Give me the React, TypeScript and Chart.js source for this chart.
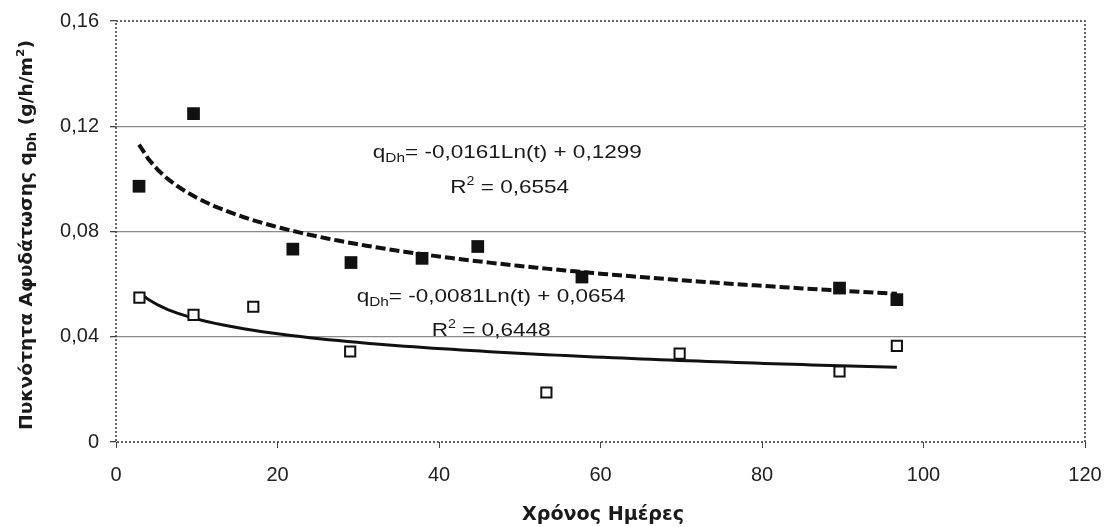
import React, { useEffect, useRef } from 'react';
import { Chart, registerables } from 'chart.js';

Chart.register(...registerables);

// ---- data ----
const filledDays = [2.85, 9.6, 21.9, 29.1, 37.9, 44.8, 57.7, 89.6, 96.7];
const filledQ = [0.0972, 0.1248, 0.0733, 0.0682, 0.0698, 0.0743, 0.0627, 0.0585, 0.0541];
const openDays = [2.9, 9.6, 17.0, 29.0, 53.3, 69.8, 89.6, 96.7];
const openQ = [0.0549, 0.0483, 0.0514, 0.0344, 0.0188, 0.0336, 0.0268, 0.0365];

// trend-line equations printed on the chart
const fitFilledSlope = -0.0161;
const fitFilledIntercept = 0.1299;
const fitFilledR2 = '0,6554';
const fitOpenSlope = -0.0081;
const fitOpenIntercept = 0.0654;
const fitOpenR2 = '0,6448';

const xTicks = [0, 20, 40, 60, 80, 100, 120];
const yTicks = [0, 0.04, 0.08, 0.12, 0.16];

const xTitle = 'Χρόνος Ημέρες';

function trend(days: number[], slope: number, intercept: number) {
  const t0 = days[0];
  const t1 = days[days.length - 1];
  const n = 80;
  const pts: { x: number; y: number }[] = [];
  for (let i = 0; i <= n; i++) {
    const t = t0 + ((t1 - t0) * i) / n;
    pts.push({ x: t, y: slope * Math.log(t) + intercept });
  }
  return pts;
}

const fmt = (v: number) => (v === 0 ? '0' : v.toFixed(2).replace('.', ','));
const fmtCoef = (v: number) => v.toFixed(4).replace('.', ',');

type Run = { text: string; size: number; dy: number };

function runsWidth(ctx: CanvasRenderingContext2D, runs: Run[], family: string, weight: string) {
  let w = 0;
  for (const r of runs) {
    ctx.font = `${weight} ${r.size}px ${family}`;
    w += ctx.measureText(r.text).width;
  }
  return w;
}

function drawRuns(
  ctx: CanvasRenderingContext2D,
  runs: Run[],
  family: string,
  weight: string,
  color: string,
  sx: number
) {
  ctx.save();
  ctx.scale(sx, 1);
  ctx.fillStyle = color;
  ctx.textBaseline = 'alphabetic';
  ctx.textAlign = 'left';
  let x = 0;
  for (const r of runs) {
    ctx.font = `${weight} ${r.size}px ${family}`;
    ctx.fillText(r.text, x, r.dy);
    x += ctx.measureText(r.text).width;
  }
  ctx.restore();
}

const ANN_FAMILY = '"Liberation Sans", Arial, sans-serif';
const TITLE_FAMILY = '"DejaVu Sans", Verdana, sans-serif';

function eqRuns(slope: number, intercept: number): Run[] {
  return [
    { text: 'q', size: 19, dy: 0 },
    { text: 'Dh', size: 13, dy: 4 },
    { text: `= ${fmtCoef(slope)}Ln(t) + ${fmtCoef(intercept)}`, size: 19, dy: 0 },
  ];
}
function r2Runs(r2: string): Run[] {
  return [
    { text: 'R', size: 19, dy: 0 },
    { text: '2', size: 12, dy: -8 },
    { text: ` = ${r2}`, size: 19, dy: 0 },
  ];
}

const annotationPlugin = {
  id: 'annotations',
  afterDatasetsDraw(chart: any) {
    const { ctx, scales } = chart;
    const xs = scales.x;
    const ys = scales.y;
    const e1 = eqRuns(fitFilledSlope, fitFilledIntercept);
    const sx = 269 / runsWidth(ctx, e1, ANN_FAMILY, 'normal');
    const items: { runs: Run[]; t: number; q: number }[] = [
      { runs: e1, t: 31.8, q: 0.108 },
      { runs: r2Runs(fitFilledR2), t: 41.4, q: 0.0946 },
      { runs: eqRuns(fitOpenSlope, fitOpenIntercept), t: 29.8, q: 0.0532 },
      { runs: r2Runs(fitOpenR2), t: 39.1, q: 0.0401 },
    ];
    for (const it of items) {
      ctx.save();
      ctx.translate(xs.getPixelForValue(it.t), ys.getPixelForValue(it.q));
      drawRuns(ctx, it.runs, ANN_FAMILY, 'normal', '#1a1a1a', sx);
      ctx.restore();
    }
  },
};

const framePlugin = {
  id: 'frame',
  beforeDatasetsDraw(chart: any) {
    const { ctx, chartArea: a } = chart;
    ctx.save();
    ctx.strokeStyle = '#333';
    ctx.lineWidth = 1.5;
    ctx.setLineDash([2, 2]);
    ctx.strokeRect(a.left, a.top, a.right - a.left, a.bottom - a.top);
    ctx.restore();
  },
};

const titlesPlugin = {
  id: 'titles',
  afterDraw(chart: any) {
    const { ctx } = chart;
    const xr: Run[] = [{ text: xTitle, size: 19, dy: 0 }];
    const xw = runsWidth(ctx, xr, TITLE_FAMILY, 'bold');
    ctx.save();
    ctx.translate(603 - 81, 520);
    drawRuns(ctx, xr, TITLE_FAMILY, 'bold', '#1a1a1a', 162 / xw);
    ctx.restore();
    const yr: Run[] = [
      { text: 'Πυκνότητα Αφυδάτωσης q', size: 17, dy: 0 },
      { text: 'Dh', size: 12, dy: 4 },
      { text: ' (g/h/m', size: 17, dy: 0 },
      { text: '2', size: 11, dy: -8 },
      { text: ')', size: 17, dy: 0 },
    ];
    const yw = runsWidth(ctx, yr, TITLE_FAMILY, 'bold');
    ctx.save();
    ctx.translate(32, 430);
    ctx.rotate(-Math.PI / 2);
    drawRuns(ctx, yr, TITLE_FAMILY, 'bold', '#1a1a1a', 390 / yw);
    ctx.restore();
  },
};

export default function App() {
  const ref = useRef<HTMLCanvasElement>(null);
  useEffect(() => {
    document.body.style.margin = '0';
    const canvas = ref.current!;
    const chart = new Chart(canvas, {
      type: 'scatter',
      data: {
        datasets: [
          {
            label: 'fit filled',
            data: trend(filledDays, fitFilledSlope, fitFilledIntercept),
            showLine: true,
            borderColor: '#111',
            borderWidth: 4,
            borderDash: [10, 4],
            pointRadius: 0,
            fill: false,
            order: 3,
          } as any,
          {
            label: 'fit open',
            data: trend(openDays, fitOpenSlope, fitOpenIntercept),
            showLine: true,
            borderColor: '#111',
            borderWidth: 3,
            pointRadius: 0,
            fill: false,
            order: 3,
          } as any,
          {
            label: 'filled',
            data: filledDays.map((d, i) => ({ x: d, y: filledQ[i] })),
            pointStyle: 'rect',
            pointRadius: 9,
            backgroundColor: '#111',
            borderColor: '#111',
            borderWidth: 0,
            order: 1,
          },
          {
            label: 'open',
            data: openDays.map((d, i) => ({ x: d, y: openQ[i] })),
            pointStyle: 'rect',
            pointRadius: 7.2,
            backgroundColor: '#fff',
            borderColor: '#111',
            borderWidth: 2,
            order: 1,
          },
        ],
      },
      options: {
        animation: false,
        responsive: true,
        maintainAspectRatio: false,
        layout: { padding: { left: 0, top: 21, right: 23, bottom: 0 } },
        plugins: {
          legend: { display: false },
          tooltip: { enabled: false },
        },
        scales: {
          x: {
            type: 'linear',
            min: 0,
            max: 120,
            afterFit: (s: any) => {
              s.height = 85;
              s.paddingLeft = 0;
              s.paddingRight = 0;
            },
            afterBuildTicks: (s: any) => {
              s.ticks = xTicks.map((v) => ({ value: v }));
            },
            border: { display: false },
            grid: {
              drawOnChartArea: false,
              drawTicks: true,
              tickLength: 6,
              tickColor: '#444',
            },
            ticks: {
              padding: 15,
              color: '#222',
              font: { family: ANN_FAMILY, size: 20 },
              callback: (v: any) => String(v),
            },
          },
          y: {
            type: 'linear',
            min: 0,
            max: 0.16,
            afterFit: (s: any) => {
              s.width = 116;
              s.paddingTop = 0;
              s.paddingBottom = 0;
            },
            afterBuildTicks: (s: any) => {
              s.ticks = yTicks.map((v) => ({ value: v }));
            },
            border: { display: false },
            grid: {
              color: (c: any) =>
                c.tick && (c.tick.value === 0 || Math.abs(c.tick.value - 0.16) < 1e-9)
                  ? 'rgba(0,0,0,0)'
                  : '#8a8a8a',
              lineWidth: 1.3,
              tickLength: 6,
              tickColor: '#444',
            },
            ticks: {
              padding: 11,
              color: '#222',
              font: { family: ANN_FAMILY, size: 20 },
              callback: (v: any) => fmt(Number(v)),
            },
          },
        },
      },
      plugins: [framePlugin, annotationPlugin, titlesPlugin],
    });
    return () => chart.destroy();
  }, []);
  return (
    <div style={{ position: 'fixed', left: 0, top: 0, width: 1108, height: 527, background: '#fff' }}>
      <canvas ref={ref} />
    </div>
  );
}
